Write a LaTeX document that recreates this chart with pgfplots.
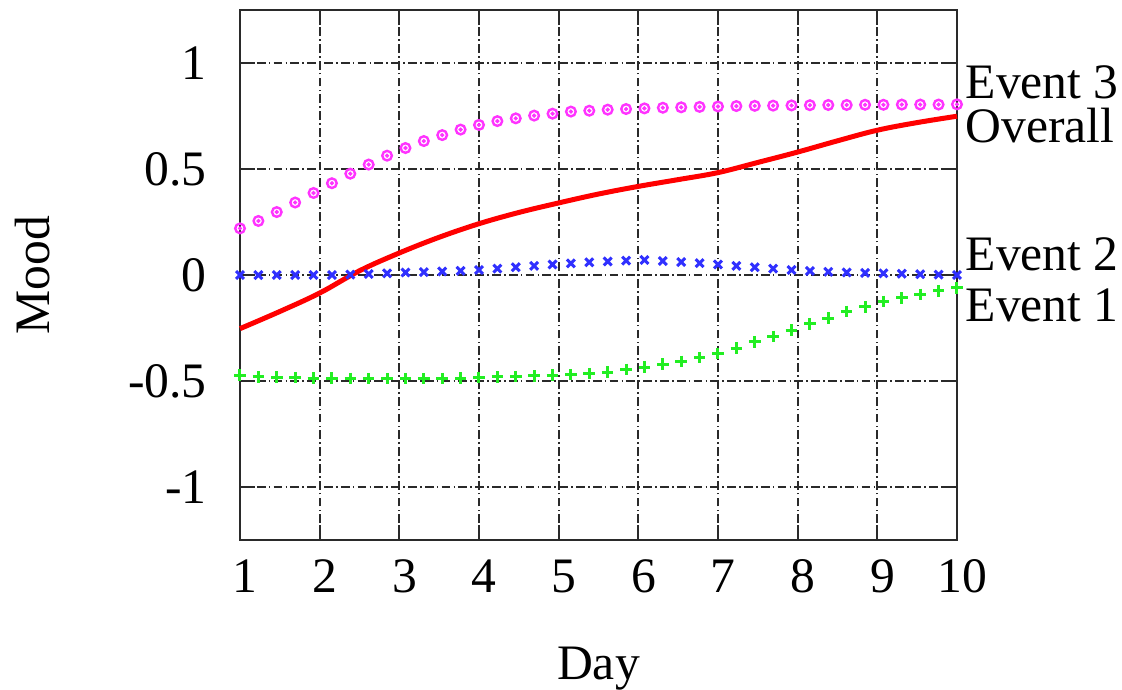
\documentclass[border=0pt]{standalone}
\usepackage{fontspec}
\setmainfont{Liberation Serif}
\usepackage{pgfplots}
\usepackage{pgfplotstable}
\pgfplotsset{compat=1.18}
\definecolor{gridc}{HTML}{2A2A2A}
\definecolor{magc}{HTML}{FF33FF}
\definecolor{bluec}{HTML}{3030FF}
\definecolor{greenc}{HTML}{22EE22}
\pgfplotstableread{
x e1 e2 e3
1.0000 -0.473 0.000 0.220
1.2308 -0.480 0.000 0.255
1.4615 -0.482 0.000 0.297
1.6923 -0.484 0.000 0.342
1.9231 -0.486 0.000 0.387
2.1538 -0.487 0.000 0.433
2.3846 -0.488 0.002 0.478
2.6154 -0.489 0.005 0.521
2.8462 -0.489 0.008 0.563
3.0769 -0.489 0.012 0.599
3.3077 -0.489 0.014 0.632
3.5385 -0.488 0.017 0.660
3.7692 -0.486 0.020 0.686
4.0000 -0.484 0.024 0.708
4.2308 -0.481 0.030 0.726
4.4615 -0.479 0.037 0.739
4.6923 -0.476 0.043 0.752
4.9231 -0.473 0.050 0.761
5.1538 -0.470 0.055 0.771
5.3846 -0.465 0.060 0.775
5.6154 -0.458 0.064 0.780
5.8462 -0.445 0.068 0.783
6.0769 -0.434 0.071 0.786
6.3077 -0.420 0.066 0.789
6.5385 -0.407 0.061 0.791
6.7692 -0.390 0.056 0.793
7.0000 -0.370 0.050 0.795
7.2308 -0.345 0.043 0.797
7.4615 -0.315 0.037 0.798
7.6923 -0.290 0.030 0.799
7.9231 -0.260 0.024 0.800
8.1538 -0.230 0.019 0.801
8.3846 -0.203 0.015 0.802
8.6154 -0.172 0.012 0.802
8.8462 -0.150 0.010 0.803
9.0769 -0.125 0.008 0.803
9.3077 -0.108 0.006 0.804
9.5385 -0.091 0.004 0.804
9.7692 -0.074 0.002 0.804
10.000 -0.061 0.000 0.805
}\events
\begin{document}
\fontsize{12.4}{15}\selectfont
\begin{tikzpicture}
\path[use as bounding box] (-60pt,-37.25pt) rectangle (220.5pt,135pt);
\begin{axis}[
  at={(0,0)}, anchor=south west,
  scale only axis=true,
  width=179.25pt, height=132.5pt,
  xmin=1, xmax=10, ymin=-1.25, ymax=1.25,
  xtick={1,2,3,4,5,6,7,8,9,10},
  ytick={-1,-0.5,0,0.5,1},
  yticklabels={-1,-0.5,0,0.5,1},
  /pgf/number format/assume math mode=true,
  tick align=inside,
  major tick length=3.75pt,
  tick style={gridc, line width=0.5pt, solid},
  axis line style={gridc, line width=0.55pt},
  grid=major,
  major grid style={gridc, line width=0.55pt, dash pattern=on 2.2pt off 0.8pt on 0.4pt off 0.8pt},
  xticklabel style={anchor=base, yshift=-13pt, xshift=1.3pt},
  yticklabel style={anchor=east, xshift=-4pt},
  xlabel={Day}, ylabel={Mood},
  every axis x label/.style={at={(axis description cs:0.5,-0.264)}, anchor=base},
  every axis y label/.style={at={(axis description cs:-0.265,0.5)}, rotate=90, anchor=base},
  clip=false,
]
\addplot[color=red, line width=1.25pt, smooth, tension=0.6] coordinates {
(1,-0.253) (1.5,-0.172) (2,-0.085) (2.5,0.02) (3,0.104) (3.5,0.178) (4,0.242)
(4.5,0.295) (5,0.34) (5.5,0.382) (6,0.418) (6.5,0.45) (7,0.483) (7.5,0.531)
(8,0.58) (8.5,0.633) (9,0.683) (9.5,0.719) (10,0.749)};
\addplot[only marks, mark=+, mark size=1.45pt, color=greenc, mark options={line width=0.75pt}] table[x=x, y=e1] {\events};
\addplot[only marks, mark=x, mark size=1.4pt, color=bluec, mark options={line width=0.75pt}] table[x=x, y=e2] {\events};
\addplot[only marks, mark=o, mark size=1.2pt, color=magc, mark options={line width=0.6pt}] table[x=x, y=e3] {\events};
\addplot[only marks, mark=*, mark size=0.3pt, color=magc] table[x=x, y=e3] {\events};
\node[anchor=base west, inner sep=0pt, xshift=2pt] at (axis cs:10,0.832) {Event 3};
\node[anchor=base west, inner sep=0pt, xshift=2pt] at (axis cs:10,0.624) {Overall};
\node[anchor=base west, inner sep=0pt, xshift=2pt] at (axis cs:10,0.022) {Event 2};
\node[anchor=base west, inner sep=0pt, xshift=2pt] at (axis cs:10,-0.217) {Event 1};
\end{axis}
\end{tikzpicture}
\end{document}
